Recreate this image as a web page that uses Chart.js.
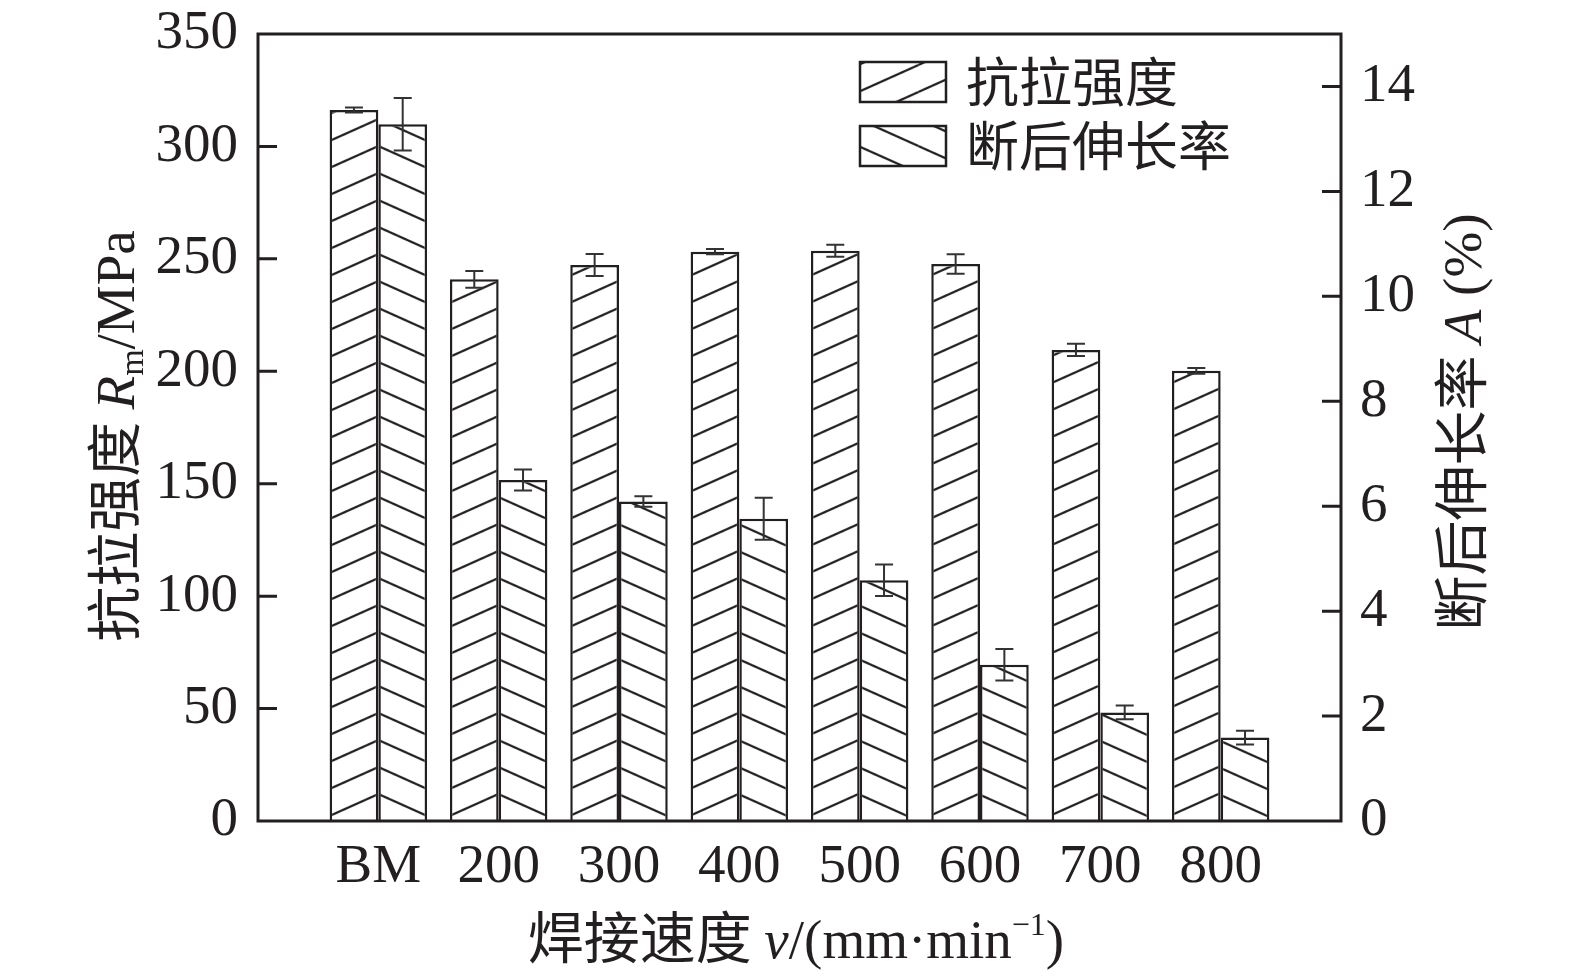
<!DOCTYPE html>
<html>
<head>
<meta charset="utf-8">
<script src="https://cdn.jsdelivr.net/npm/chart.js"></script>
<style>
  body { margin: 0; background: #fff; }
</style>
</head>
<body>
<canvas id="chart" width="1575" height="978"></canvas>
<script>
// data
const categories = ['BM', '200', '300', '400', '500', '600', '700', '800'];
const tensile = [316.2, 240.9, 247.3, 253.2, 253.6, 247.7, 209.5, 200.2];  // Rm, MPa
const tensileErr = [1.1, 3.7, 4.9, 1.2, 2.7, 4.3, 2.7, 1.3];
const elongation = [13.28, 6.5, 6.09, 5.76, 4.59, 2.98, 2.07, 1.59];       // A, %
const elongationErr = [0.5, 0.2, 0.1, 0.4, 0.3, 0.3, 0.13, 0.13];
const leftTicks = [0, 50, 100, 150, 200, 250, 300, 350];
const rightTicks = [0, 2, 4, 6, 8, 10, 12, 14];

const INK = '#231f20';
const SERIF = '"Liberation Serif", "Times New Roman", serif';
const CJK = '"Noto Sans CJK SC", sans-serif';

// hatch fill, dir 1 = "/" and -1 = "\"
function makeHatch(dir) {
    const w = 60, h = 27;
    const c = document.createElement('canvas');
    c.width = w; c.height = h;
    const g = c.getContext('2d');
    g.fillStyle = '#fff';
    g.fillRect(0, 0, w, h);
    g.strokeStyle = INK;
    g.lineWidth = 2.2;
    for (let k = -1; k <= 1; k++) {
        g.beginPath();
        if (dir > 0) { g.moveTo(0, h + k * h); g.lineTo(w, k * h); }
        else { g.moveTo(0, k * h); g.lineTo(w, h + k * h); }
        g.stroke();
    }
    const p = g.createPattern(c, 'repeat');
    p.hatchH = h;
    return p;
}
const hatchUp = makeHatch(1);
const hatchDown = makeHatch(-1);

// pad the category list so BM..800 sit on 1..8 of a 0..9 axis
const xLabels = ['', ...categories, ''];
const pad = arr => [null, ...arr, null];

// draw a row of text pieces with different fonts, centred on x = 0
function drawRuns(ctx, runs) {
    let total = 0;
    runs.forEach(r => { ctx.font = r.font; r.w = ctx.measureText(r.text).width; total += r.w; });
    let x = -total / 2;
    ctx.textAlign = 'left';
    ctx.textBaseline = 'alphabetic';
    runs.forEach(r => {
        ctx.font = r.font;
        ctx.fillText(r.text, x, r.dy || 0);
        x += r.w;
    });
}

const hatchAnchor = {
    id: 'hatchAnchor',
    beforeDatasetsDraw(chart) {
        const xc = chart.scales.x.getPixelForValue(1);
        const yb = chart.scales.y.getPixelForValue(0);
        hatchUp.setTransform(new DOMMatrix([1, 0, 0, 1, xc, yb - hatchUp.hatchH]));
        hatchDown.setTransform(new DOMMatrix([1, 0, 0, 1, xc, yb]));
    }
};

const errorBars = {
    id: 'errorBars',
    afterDatasetsDraw(chart) {
        const ctx = chart.ctx;
        const errs = [tensileErr, elongationErr];
        ctx.save();
        ctx.strokeStyle = '#333';
        ctx.lineWidth = 2;
        chart.data.datasets.forEach((ds, di) => {
            const meta = chart.getDatasetMeta(di);
            const scale = chart.scales[ds.yAxisID];
            meta.data.forEach((bar, i) => {
                const v = ds.data[i];
                if (v == null) return;
                const e = errs[di][i - 1];
                const y1 = scale.getPixelForValue(v + e);
                const y2 = scale.getPixelForValue(v - e);
                const x = bar.x;
                ctx.beginPath();
                ctx.moveTo(x, y1); ctx.lineTo(x, y2);
                ctx.moveTo(x - 9, y1); ctx.lineTo(x + 9, y1);
                ctx.moveTo(x - 9, y2); ctx.lineTo(x + 9, y2);
                ctx.stroke();
            });
        });
        ctx.restore();
    }
};

const frameAndTitles = {
    id: 'frameAndTitles',
    afterDraw(chart) {
        const ctx = chart.ctx;
        const a = chart.chartArea;
        const yL = chart.scales.y, yR = chart.scales.y1;
        ctx.save();
        ctx.strokeStyle = INK;
        ctx.lineWidth = 3;
        ctx.strokeRect(a.left, a.top, a.right - a.left, a.bottom - a.top);

        // inward tick marks
        ctx.beginPath();
        leftTicks.forEach(v => {
            if (v === 0 || v === 350) return;
            const y = yL.getPixelForValue(v);
            ctx.moveTo(a.left, y); ctx.lineTo(a.left + 19, y);
        });
        rightTicks.forEach(v => {
            if (v === 0) return;
            const y = yR.getPixelForValue(v);
            ctx.moveTo(a.right, y); ctx.lineTo(a.right - 19, y);
        });
        ctx.stroke();

        ctx.fillStyle = INK;
        // left title
        ctx.save();
        ctx.translate(134, 436);
        ctx.rotate(-Math.PI / 2);
        drawRuns(ctx, [
            { text: '抗拉强度 ', font: '55px ' + CJK },
            { text: 'R', font: 'italic 55px ' + SERIF },
            { text: 'm', font: '34px ' + SERIF, dy: 9 },
            { text: '/MPa', font: '55px ' + SERIF }
        ]);
        ctx.restore();

        // right title
        ctx.save();
        ctx.translate(1481, 422);
        ctx.rotate(-Math.PI / 2);
        drawRuns(ctx, [
            { text: '断后伸长率 ', font: '55px ' + CJK },
            { text: 'A', font: 'italic 55px ' + SERIF },
            { text: ' (%)', font: '55px ' + SERIF }
        ]);
        ctx.restore();

        // x title
        ctx.save();
        ctx.translate(796, 958);
        drawRuns(ctx, [
            { text: '焊接速度 ', font: '56px ' + CJK },
            { text: 'v', font: 'italic 55px ' + SERIF },
            { text: '/(mm·min', font: '55px ' + SERIF },
            { text: '−1', font: '32px ' + SERIF, dy: -23 },
            { text: ')', font: '55px ' + SERIF }
        ]);
        ctx.restore();

        // legend inside the plot
        const boxes = [
            { y: 62, fill: hatchUp, label: chart.data.datasets[0].label },
            { y: 126, fill: hatchDown, label: chart.data.datasets[1].label }
        ];
        boxes.forEach(b => {
            ctx.fillStyle = b.fill;
            ctx.fillRect(860, b.y, 86, 40);
            ctx.lineWidth = 2.5;
            ctx.strokeRect(860, b.y, 86, 40);
            ctx.fillStyle = INK;
            ctx.font = '53px ' + CJK;
            ctx.textAlign = 'left';
            ctx.textBaseline = 'middle';
            ctx.fillText(b.label, 966, b.y + 20);
        });
        ctx.restore();
    }
};

// tiny lineHeight on the y ticks so they add no extra top padding
const tickFont = { family: SERIF, size: 55 };
const yTickFont = { family: SERIF, size: 55, lineHeight: 0.01 };

new Chart(document.getElementById('chart'), {
    type: 'bar',
    data: {
        labels: xLabels,
        datasets: [{
            label: '抗拉强度',
            data: pad(tensile),
            yAxisID: 'y',
            backgroundColor: hatchUp,
            borderColor: INK,
            borderWidth: 2.5,
            categoryPercentage: 0.81,
            barPercentage: 1
        }, {
            label: '断后伸长率',
            data: pad(elongation),
            yAxisID: 'y1',
            backgroundColor: hatchDown,
            borderColor: INK,
            borderWidth: 2.5,
            categoryPercentage: 0.81,
            barPercentage: 1
        }]
    },
    options: {
        responsive: false,
        animation: false,
        layout: { padding: { top: 34, left: 0, right: 0, bottom: 0 } },
        plugins: {
            legend: { display: false },
            tooltip: { enabled: false }
        },
        scales: {
            x: {
                type: 'category',
                offset: false,
                grid: { display: false, drawTicks: false },
                border: { display: false },
                ticks: { font: tickFont, color: INK, padding: 14, autoSkip: false, maxRotation: 0 },
                afterFit: s => { s.height = 157; }
            },
            y: {
                position: 'left',
                min: 0, max: 350,
                grid: { display: false, drawTicks: false },
                border: { display: false },
                ticks: { stepSize: 50, font: yTickFont, color: INK, padding: 20 },
                afterBuildTicks: s => { s.ticks = leftTicks.map(v => ({ value: v })); },
                afterFit: s => { s.width = 258; }
            },
            y1: {
                position: 'right',
                min: 0, max: 15,
                grid: { display: false, drawTicks: false },
                border: { display: false },
                ticks: { stepSize: 2, font: yTickFont, color: INK, padding: 19 },
                afterBuildTicks: s => { s.ticks = rightTicks.map(v => ({ value: v })); },
                afterFit: s => { s.width = 234; }
            }
        }
    },
    plugins: [hatchAnchor, errorBars, frameAndTitles]
});
</script>
</body>
</html>
